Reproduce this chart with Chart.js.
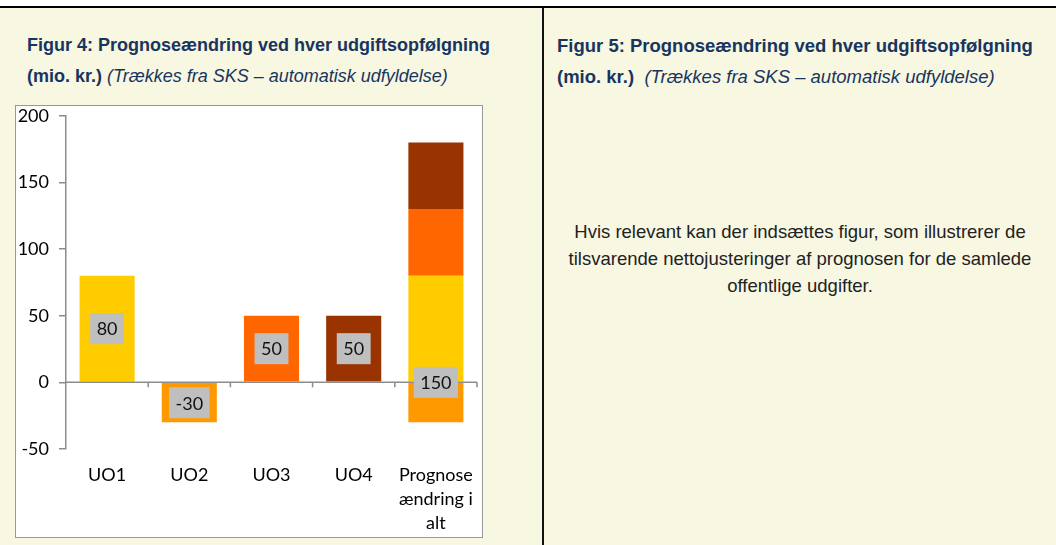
<!DOCTYPE html>
<html>
<head>
<meta charset="utf-8">
<script src="https://cdn.jsdelivr.net/npm/chart.js@4"></script>
<style>
  body { margin: 0; width: 1056px; height: 545px; background: #fff; position: relative; overflow: hidden; font-family: "Liberation Sans", Arial, sans-serif; }
  .topline { position: absolute; left: 0; top: 6px; width: 1056px; height: 2px; background: #000; }
  .cell { position: absolute; top: 8px; height: 537px; background: #F8F7E2; }
  .left { left: 0; width: 543px; }
  .right { left: 544px; width: 512px; }
  .vline { position: absolute; left: 542px; top: 8px; width: 2px; height: 537px; background: #111; }
  .title { position: absolute; top: 22px; font-size: 18px; line-height: 31px; color: #17355F; font-weight: bold; white-space: nowrap; }
  .title i { font-weight: normal; }
  .left .title { left: 27px; }
  .right .title { left: 13px; font-size: 18.5px; }
  .body { position: absolute; left: 0; width: 512px; top: 210px; text-align: center; font-size: 18.5px; line-height: 27px; color: #222; }
  .box { position: absolute; left: 15px; top: 97px; width: 466px; height: 431px; background: #fff; border: 1.5px solid #999; }
  canvas { display: block; position: absolute; left: 0; top: -11px; }
</style>
</head>
<body>
<div class="topline"></div>
<div class="cell left">
  <div class="title">Figur 4: Prognoseændring ved hver udgiftsopfølgning<br>(mio. kr.) <i>(Trækkes fra SKS – automatisk udfyldelse)</i></div>
  <div class="box"><canvas id="chart" width="466" height="442"></canvas></div>
</div>
<div class="vline"></div>
<div class="cell right">
  <div class="title">Figur 5: Prognoseændring ved hver udgiftsopfølgning<br>(mio. kr.)&nbsp; <i>(Trækkes fra SKS – automatisk udfyldelse)</i></div>
  <div class="body">Hvis relevant kan der indsættes figur, som illustrerer de<br>tilsvarende nettojusteringer af prognosen for de samlede<br>offentlige udgifter.</div>
</div>
<script>
// data
const categories = ['UO1', 'UO2', 'UO3', 'UO4', ['Prognose', 'ændring i', 'alt']];
const uo1 = [80, null, null, null, 80];
const uo2 = [null, -30, null, null, -30];
const uo3 = [null, null, 50, null, 50];
const uo4 = [null, null, null, 50, 50];
const yTicks = [-50, 0, 50, 100, 150, 200];

const labelFont = '18px Lato';

// zero line with category ticks + grey value boxes
const valueLabels = {
  id: 'valueLabels',
  afterDatasetsDraw(chart) {
    const ctx = chart.ctx;
    const x = chart.scales.x, y = chart.scales.y;
    const y0 = y.getPixelForValue(0);
    const half = (x.getPixelForValue(1) - x.getPixelForValue(0)) / 2;
    ctx.save();
    ctx.strokeStyle = '#8c8c8c';
    ctx.lineWidth = 1.5;
    ctx.beginPath();
    ctx.moveTo(x.left, y0);
    ctx.lineTo(x.right, y0);
    for (let i = 0; i < categories.length; i++) {
      const bx = x.getPixelForValue(i) + half;
      ctx.moveTo(bx, y0);
      ctx.lineTo(bx, y0 + 5);
    }
    ctx.stroke();

    const drawBox = (text, cx, cy) => {
      ctx.font = labelFont;
      const w = ctx.measureText(text).width + 13;
      const h = 31;
      ctx.fillStyle = '#BFBFBF';
      ctx.fillRect(cx - w / 2, cy - h / 2, w, h);
      ctx.fillStyle = '#111';
      ctx.textAlign = 'center';
      ctx.textBaseline = 'middle';
      ctx.fillText(text, cx, cy + 1);
    };

    const last = categories.length - 1;
    chart.data.datasets.forEach((ds, di) => {
      const meta = chart.getDatasetMeta(di);
      ds.data.forEach((v, i) => {
        if (v == null || i === last) return;
        const bar = meta.data[i];
        drawBox(String(v), bar.x, (bar.y + bar.base) / 2);
      });
    });
    let total = 0;
    chart.data.datasets.forEach(ds => { if (ds.data[last] != null) total += ds.data[last]; });
    drawBox(String(total), x.getPixelForValue(last), y0);
    ctx.restore();
  }
};

new Chart(document.getElementById('chart').getContext('2d'), {
  type: 'bar',
  data: {
    labels: categories,
    datasets: [
      { label: 'UO1', data: uo1, backgroundColor: '#FFCC00' },
      { label: 'UO2', data: uo2, backgroundColor: '#FF9900' },
      { label: 'UO3', data: uo3, backgroundColor: '#FF6600' },
      { label: 'UO4', data: uo4, backgroundColor: '#993300' }
    ]
  },
  options: {
    responsive: false,
    animation: false,
    barPercentage: 0.67,
    categoryPercentage: 1,
    layout: { padding: { left: 0, right: 5, top: 0, bottom: 0 } },
    plugins: {
      legend: { display: false },
      tooltip: { enabled: false }
    },
    scales: {
      x: {
        stacked: true,
        grid: { display: false },
        border: { display: false },
        ticks: { color: '#000', font: { family: 'Lato', size: 18, lineHeight: 1.33 }, maxRotation: 0, autoSkip: false, padding: 6 },
        afterFit(s) { s.height = 88; }
      },
      y: {
        stacked: true,
        min: -50,
        max: 200,
        afterBuildTicks(s) { s.ticks = yTicks.map(v => ({ value: v })); },
        grid: { drawOnChartArea: false, drawTicks: true, tickLength: 7, color: '#8c8c8c', lineWidth: 1.5 },
        border: { display: true, color: '#8c8c8c', width: 1.5 },
        ticks: { color: '#000', font: { family: 'Lato', size: 18 }, padding: 10 },
        afterFit(s) { s.width = 50; }
      }
    }
  },
  plugins: [valueLabels]
});
</script>
</body>
</html>
